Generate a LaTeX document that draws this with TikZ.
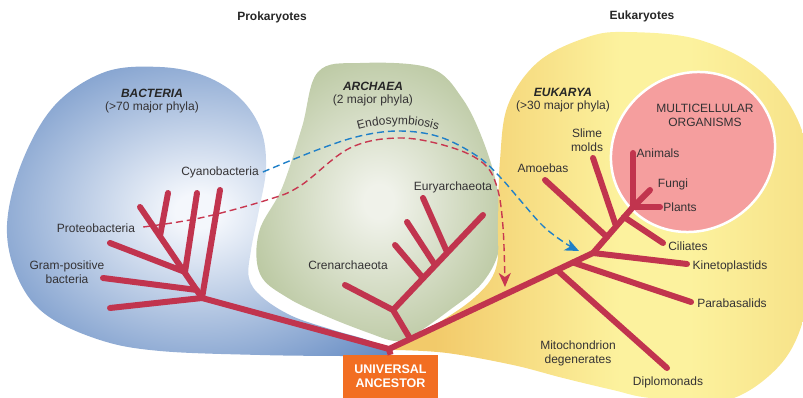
\documentclass[tikz,border=0pt]{standalone}
\usepackage{fontspec}
\setmainfont{Liberation Sans}
\usetikzlibrary{arrows.meta,decorations.text,calc}
\definecolor{treec}{RGB}{193,52,78}
\definecolor{bluo}{RGB}{86,128,189}
\definecolor{blui}{RGB}{244,247,252}
\definecolor{grno}{RGB}{156,176,120}
\definecolor{grni}{RGB}{240,242,234}
\definecolor{yl1}{RGB}{242,202,106}
\definecolor{yl2}{RGB}{252,242,158}
\definecolor{yl3}{RGB}{238,196,96}
\definecolor{pinkc}{RGB}{245,158,158}
\definecolor{dashblue}{RGB}{32,128,200}
\definecolor{dashred}{RGB}{200,55,80}
\definecolor{txt}{RGB}{52,50,52}
\definecolor{orng}{RGB}{242,110,34}
\pgfdeclareradialshading{blueblob}{\pgfpoint{0bp}{0bp}}{color(0bp)=(blui); color(3bp)=(blui); color(38bp)=(bluo); color(80bp)=(bluo)}
\pgfdeclareradialshading{greenblob}{\pgfpoint{0bp}{0bp}}{color(0bp)=(grni); color(3bp)=(grni); color(42bp)=(grno); color(80bp)=(grno)}
\pgfdeclarehorizontalshading{yelblob}{100bp}{color(0bp)=(yl1); color(30bp)=(yl1); color(52bp)=(yl2); color(60bp)=(yl2); color(100bp)=(yl3)}
\tikzset{
  branch/.style={draw=treec, line width=6pt, line cap=round, line join=round},
  lbl/.style={font=\fontsize{12}{14}\selectfont, text=txt, inner sep=0pt, align=center},
  grp/.style={font=\bfseries\itshape\fontsize{12}{14}\selectfont, text=black!85, inner sep=0pt},
  ttl/.style={font=\bfseries\fontsize{12}{14}\selectfont, text=black!85, inner sep=0pt},
  dashconn/.style={line width=1.4pt, dash pattern=on 7pt off 4pt}
}
\begin{document}
\begin{tikzpicture}[x=1pt,y=-1pt]
\useasboundingbox (0,0) rectangle (803,398);
\clip (0,0) rectangle (803,398);
% blobs
\shade[shading=blueblob] plot[smooth, tension=0.6] coordinates {(390,353) (370,341) (333,330) (292,316) (262,297) (249,278) (251,250) (259,210) (266,168) (261,130) (240,98) (205,76) (160,67) (105,72) (55,105) (22,162) (7,225) (17,276) (45,314) (100,340) (160,351) (260,355) (340,356) (385,356)} -- cycle;
\shade[shading=greenblob] plot[smooth cycle, tension=0.6] coordinates {(318,72) (360,63) (430,68) (462,98) (484,143) (498,193) (500,245) (483,282) (447,312) (412,336) (395,341) (369,333) (328,317) (288,298) (260,274) (259,232) (282,188) (302,127)};
\shade[shading=yelblob] plot[smooth, tension=0.6] coordinates {(392,349) (430,328) (474,298) (496,268) (498,220) (500,160) (508,105) (538,62) (585,38) (625,32) (700,40) (765,75) (805,140) (815,250) (800,330) (770,375) (720,402) (650,398) (613,390) (563,378) (513,365) (447,353) (396,350)} -- cycle;
\draw[white, line width=2.5pt, fill=pinkc, rotate around={35:(693,152)}] (693,152) ellipse [x radius=84, y radius=78];
% titles
\node[ttl] (prok) at (272,17) {Prokaryotes};
\node[ttl] (euk) at (642,16) {Eukaryotes};
\node[grp] (bact) at (152,93) {BACTERIA};
\node[lbl] (bactn) at (152,107) {(>70 major phyla)};
\node[grp] (arch) at (373,86) {ARCHAEA};
\node[lbl] (archn) at (373,100) {(2 major phyla)};
\node[grp] (eukg) at (563,92) {EUKARYA};
\node[lbl] (eukn) at (563,106) {(>30 major phyla)};
% labels
\node[lbl] (cyano) at (220,172) {Cyanobacteria};
\node[lbl] (proteo) at (96,228) {Proteobacteria};
\node[lbl] (gram) at (67,272) {Gram-positive\\bacteria};
\node[lbl] (eury) at (453,187) {Euryarchaeota};
\node[lbl] (cren) at (348,265) {Crenarchaeota};
\node[lbl] (multi) at (705,115) {MULTICELLULAR\\ORGANISMS};
\node[lbl] (slime) at (587,140) {Slime\\molds};
\node[lbl] (amoeba) at (543,168) {Amoebas};
\node[lbl] (animals) at (658,153) {Animals};
\node[lbl] (fungi) at (673,184) {Fungi};
\node[lbl] (plants) at (680,207) {Plants};
\node[lbl] (cil) at (688,246) {Ciliates};
\node[lbl] (kin) at (730,266) {Kinetoplastids};
\node[lbl] (para) at (732,303) {Parabasalids};
\node[lbl] (mito) at (578,353) {Mitochondrion\\degenerates};
\node[lbl] (diplo) at (668,382) {Diplomonads};
% endosymbiosis
\path[decorate, decoration={text along path, text align=center, text={|\fontsize{12}{14}\selectfont\color{txt}|Endosymbiosis}}] (348,133) .. controls (378,121) and (418,121) .. (448,134);
% dashed connectors
\coordinate (bs) at ($(cyano.east)+(4,0)$);
\coordinate (bend) at (579,251);
\coordinate (rs) at ($(proteo.east)+(8,-1)$);
\coordinate (rend) at (505,287);
\draw[dashconn, draw=dashblue, -{Stealth[length=14pt,width=12pt,inset=4pt,fill=dashblue]}] plot[smooth, tension=0.6] coordinates {(bs) (317,150) (360,136) (400,131) (440,137) (477,156) (500,177) (520,200) (543,226) (565,243) (bend)};
\draw[dashconn, draw=dashred, -{Stealth[length=14pt,width=12pt,inset=4pt,fill=dashred]}] plot[smooth, tension=0.6] coordinates {(rs) (200,218) (267,200) (300,186) (350,148) (400,138) (450,147) (483,163) (497,187) (503,227) (rend)};
% tree coordinates
\coordinate (R) at (389,349);
\coordinate (B0) at (202,298);
\coordinate (E1) at (557,270);
\coordinate (E2) at (573,262.5);
\coordinate (E3) at (593,253);
\coordinate (E4) at (607,237);
\coordinate (E5) at (616,226);
\coordinate (E6) at (624,217);
\coordinate (M) at (633,207);
\coordinate (Ea) at (410,338.5);
\coordinate (A0) at (393,310);
\coordinate (n1) at (160,236);
\coordinate (n2) at (185,272);
\coordinate (n3) at (197,290);
% tree
\draw[branch, line join=miter] (B0) -- (R) -- (E1) -- (E3) -- (M);
\draw[branch] (B0) -- (110,308);
\draw[branch] (B0) -- (140,207);
\draw[branch] (n1) -- (168,193);
\draw[branch] (n2) -- (197,193);
\draw[branch] (B0) -- (220,190);
\draw[branch] (n2) -- (110,243);
\draw[branch] (n3) -- (103,278);
\draw[branch] (Ea) -- (A0) -- (345,285);
\draw[branch] (A0) -- (483,215);
\draw[branch] (423,278) -- (395,245);
\draw[branch] (435,265) -- (407,222);
\draw[branch] (447,252) -- (423,198);
\draw[branch] (E1) -- (667,368);
\draw[branch] (E2) -- (691,302);
\draw[branch] (E3) -- (687,264);
\draw[branch] (E4) -- (545,180);
\draw[branch] (E5) -- (593,158);
\draw[branch] (E6) -- (663,243);
\draw[branch] (M) -- (633,153);
\draw[branch] (M) -- (650,190);
\draw[branch] (M) -- (660,207);
% universal ancestor
\node[fill=orng, minimum width=95pt, minimum height=43pt, inner sep=0pt, text=white, align=center, font=\bfseries\fontsize{12.5}{14}\selectfont] (ua) at (390.5,376.5) {UNIVERSAL\\ANCESTOR};
\draw[branch, line cap=butt] (R) -- (ua.north);
\end{tikzpicture}
\end{document}
